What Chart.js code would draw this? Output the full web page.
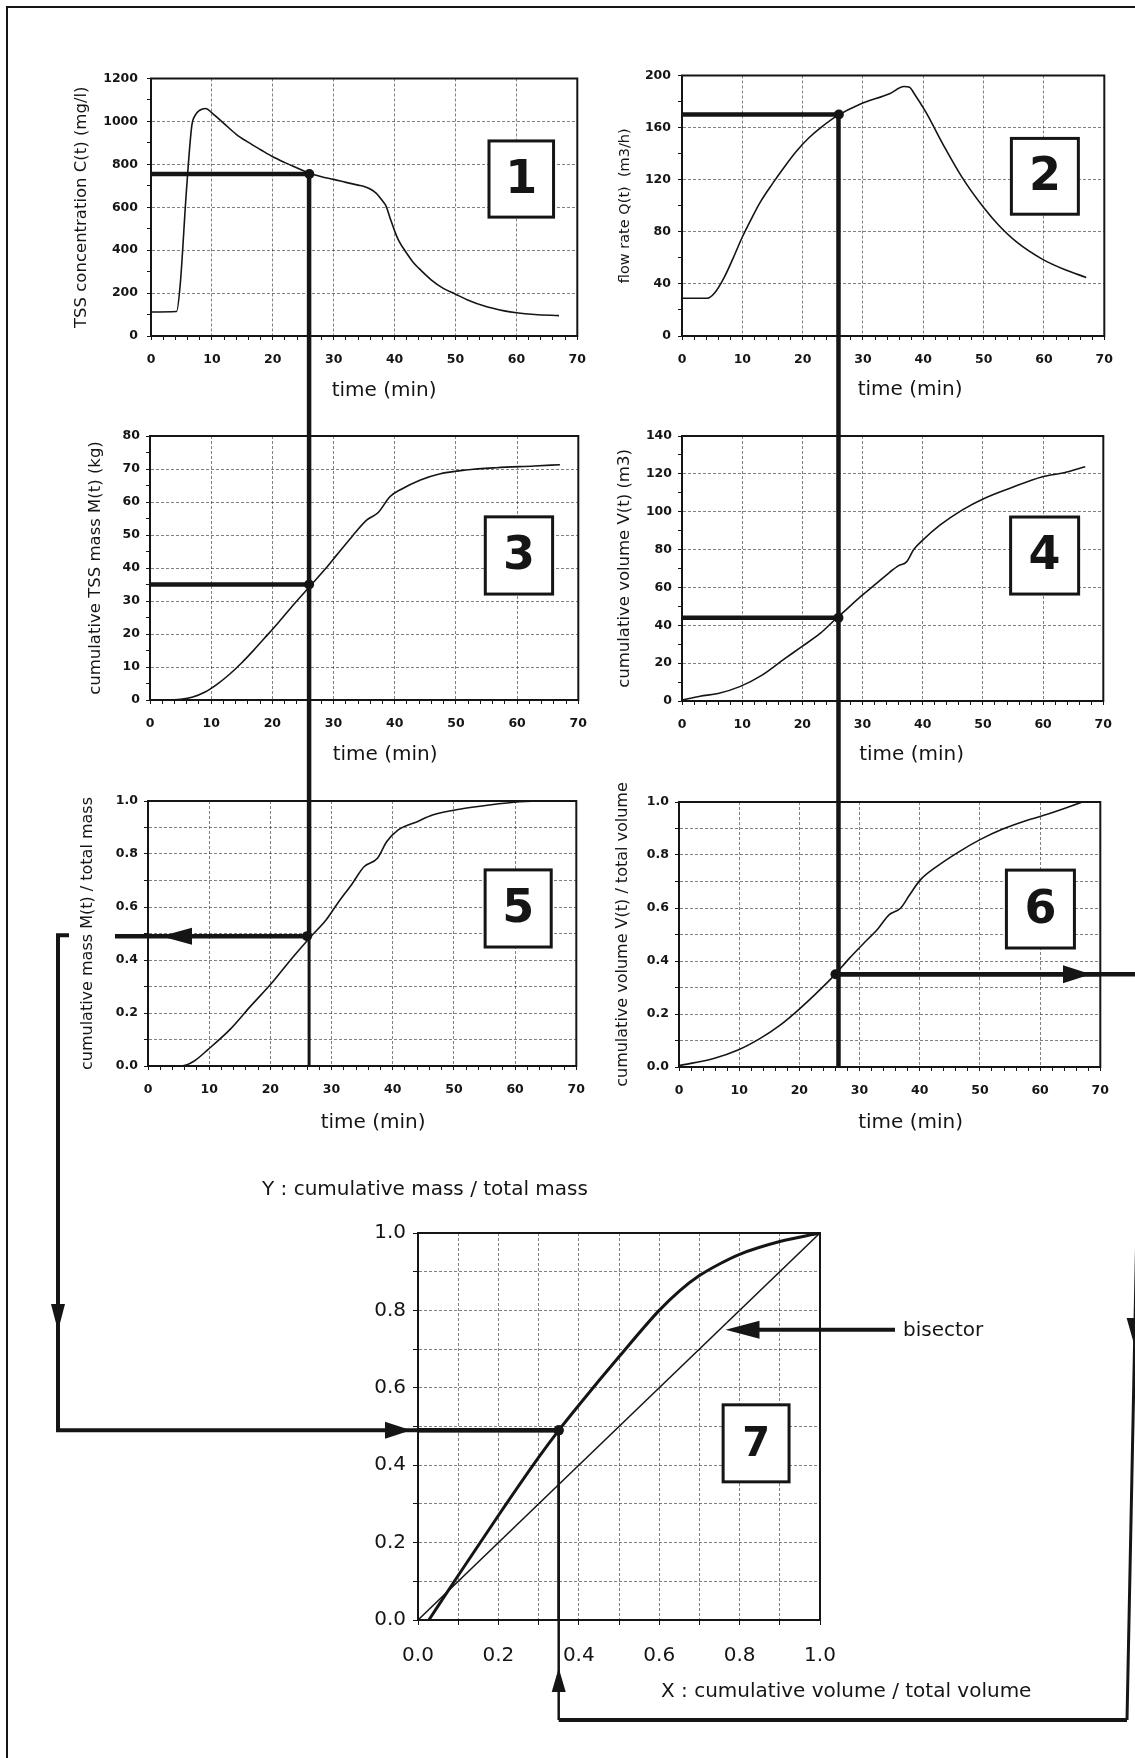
<!DOCTYPE html>
<html lang="en">
<head>
<meta charset="utf-8">
<title>Construction of the M(V) curve</title>
<script src="https://cdn.jsdelivr.net/npm/chart.js@4.4.1/dist/chart.umd.min.js"></script>
<style>
  html, body { margin:0; padding:0; background:#ffffff; }
  #page { position:relative; width:1135px; height:1758px; overflow:hidden; background:#ffffff; }
  #page canvas { position:absolute; }
</style>
</head>
<body>
<div id="page"></div>
<script>
// ================= data =================
// tick labels
const timeMajor = [0, 10, 20, 30, 40, 50, 60, 70];
const concMajor = [0, 200, 400, 600, 800, 1000, 1200];
const flowMajor = [0, 40, 80, 120, 160, 200];
const massMajor = [0, 10, 20, 30, 40, 50, 60, 70, 80];
const volMajor  = [0, 20, 40, 60, 80, 100, 120, 140];
const fracMajor = [0, 0.2, 0.4, 0.6, 0.8, 1.0];

// panel 1 : TSS concentration C(t) (mg/l)
const concTime   = [0, 4.2, 4.8, 5.8, 6.7, 7.3, 8, 9, 10, 11, 12, 14, 16, 18, 20, 22, 24, 26, 28, 30, 32, 34, 35, 36, 37, 38, 38.6, 39.2, 40, 40.7, 42, 43, 44, 46, 48, 50, 52, 55, 58, 60, 63, 67];
const concValues = [112, 114, 240, 670, 980, 1030, 1052, 1060, 1040, 1015, 990, 940, 902, 868, 835, 808, 783, 758, 742, 730, 716, 703, 697, 685, 665, 630, 605, 555, 490, 443, 385, 345, 315, 262, 222, 195, 168, 137, 117, 108, 100, 95];

// panel 2 : flow rate Q(t) (m3/h)
const flowTime   = [0, 4.2, 5.4, 7, 8.5, 10, 11.5, 13, 15, 17, 19, 21, 23, 25.7, 29.5, 34.4, 36.8, 37.7, 38.5, 40.4, 43.4, 46.4, 50.1, 52.5, 55.5, 59.7, 63.4, 67];
const flowValues = [29, 29, 33, 45, 60, 76, 90, 103, 117, 130, 142, 152, 160, 169, 178, 186, 191.5, 191, 186, 172, 146, 122, 98, 85, 72, 59, 51, 45];

// panel 3 : cumulative TSS mass M(t) (kg)
const massTime   = [0, 3, 5, 7, 9, 11, 13, 15, 17, 18.7, 21, 23.7, 26.2, 28.6, 30.5, 33, 35.4, 37.3, 39.2, 41, 44.2, 47.3, 51.6, 56.6, 62.8, 67];
const massValues = [0, 0, 0.2, 0.9, 2.4, 4.8, 7.8, 11.3, 15.2, 18.7, 23.5, 29.4, 34.6, 39.6, 43.9, 49.5, 54.5, 56.8, 61.6, 63.8, 66.7, 68.5, 69.7, 70.4, 70.9, 71.3];

// panel 4 : cumulative volume V(t) (m3)
const volTime   = [0, 3, 6, 9.6, 13.3, 16.9, 19.9, 23, 25.5, 27.2, 29.6, 32, 34.5, 36, 37.3, 38.5, 40, 42.9, 46.6, 50.2, 54.5, 59.9, 63.5, 67];
const volValues = [0.5, 2.5, 4, 7.6, 13.7, 22, 28.7, 35.8, 43.2, 48, 55, 61.3, 68, 71.5, 73.5, 80, 85, 93, 101, 107, 112.4, 118.5, 120.6, 123.8];

// panel 5 : M(t) / total mass
const massFracTime   = [0, 3, 5.5, 7.5, 9.8, 13.5, 16.7, 20.4, 23.5, 26.6, 29.1, 31, 33.4, 35.3, 37.5, 39, 40.9, 44, 46.5, 50.9, 55.8, 60.8, 64.7, 67];
const massFracValues = [0, 0, 0, 0.018, 0.062, 0.14, 0.224, 0.318, 0.406, 0.488, 0.551, 0.614, 0.689, 0.752, 0.784, 0.846, 0.891, 0.922, 0.947, 0.969, 0.985, 0.997, 1.0, 1.0];

// panel 6 : V(t) / total volume
const volFracTime   = [0, 5.9, 9.8, 13.5, 16.8, 19.8, 22.8, 25.6, 28.3, 30.7, 33.1, 34.9, 36.8, 38.3, 40.1, 42.8, 46.5, 50.1, 53.7, 58, 62.2, 67];
const volFracValues = [0.005, 0.033, 0.064, 0.108, 0.158, 0.215, 0.278, 0.341, 0.41, 0.467, 0.523, 0.574, 0.599, 0.649, 0.706, 0.756, 0.812, 0.859, 0.897, 0.932, 0.961, 1.0];

// panel 7 : Y = M/Mtot versus X = V/Vtot, and the bisector
const mvX = [0.027, 0.1, 0.2, 0.3, 0.35, 0.4, 0.5, 0.6, 0.65, 0.7, 0.75, 0.8, 0.9, 1.0];
const mvY = [0, 0.115, 0.27, 0.42, 0.49, 0.555, 0.68, 0.8, 0.85, 0.89, 0.92, 0.945, 0.978, 1.0];
const bisectorX = [0, 1];
const bisectorY = [0, 1];

// reading example at t = 26 min
const cutTime = 26;
const concAtCut = 755;
const flowAtCut = 170;
const massAtCut = 35;
const volAtCut = 44;
const massFracAtCut = 0.49;
const volFracAtCut = 0.35;

// ================= drawing =================
const INK = '#151515';
const GRID = 'rgba(25,25,25,0.55)';
const FONT = "'DejaVu Sans', 'Liberation Sans', sans-serif";
const page = document.getElementById('page');

function stepList(min, max, step) {
  const out = []; const n = Math.round((max - min) / step);
  for (let i = 0; i <= n; i++) out.push(+(min + i * step).toFixed(6));
  return out;
}
function isIn(list, v) { return list.some(m => Math.abs(m - v) < 1e-6); }

function curve(xs, ys, w) {
  return { data: xs.map((x, i) => ({ x: x, y: ys[i] })), borderColor: INK, borderWidth: w || 1.6,
    pointRadius: 0, fill: false, cubicInterpolationMode: 'monotone' };
}
function guide(points, w, markIdx) {
  return { data: points, borderColor: INK, borderWidth: w, fill: false, tension: 0,
    pointRadius: points.map((p, i) => i === markIdx ? 5 : 0), pointBackgroundColor: INK,
    pointBorderColor: INK, pointBorderWidth: 0 };
}

function axis(o, horizontal) {
  const ax = {
    type: 'linear', position: horizontal ? 'bottom' : 'left', min: o.min, max: o.max,
    afterBuildTicks: s => { s.ticks = stepList(o.min, o.max, o.step).map(v => ({ value: v })); },
    afterFit: s => { if (horizontal) s.height = o.size; else s.width = o.size; },
    ticks: { autoSkip: false, maxRotation: 0, minRotation: 0, padding: o.pad, color: INK, font: o.font,
      callback: v => isIn(o.major, v) ? o.fmt(v) : '' },
    grid: { color: c => (c.tick && (o.gridAll || isIn(o.major, c.tick.value))) ? GRID : 'rgba(0,0,0,0)',
      lineWidth: 1, drawTicks: true, tickLength: o.tl, tickColor: INK, tickWidth: 1, tickBorderDash: [] },
    border: { display: true, color: INK, width: 2, dash: [3, 2] }
  };
  if (o.title) {
    ax.title = { display: true, text: o.title, color: INK, padding: { top: 0, bottom: 0 },
      font: { family: FONT, size: o.titleSize, weight: 'normal' } };
  }
  return ax;
}

const framePlugin = {
  id: 'frame',
  beforeDatasetsDraw(chart) {
    const { ctx, chartArea: a } = chart;
    ctx.save(); ctx.strokeStyle = INK; ctx.lineWidth = 2;
    ctx.strokeRect(a.left, a.top, a.right - a.left, a.bottom - a.top); ctx.restore();
  }
};
function boxPlugin(b) {
  return { id: 'numBox', afterDatasetsDraw(chart) {
    const { ctx } = chart; const xs = chart.scales.x, ys = chart.scales.y;
    const x0 = xs.getPixelForValue(b.x0), x1 = xs.getPixelForValue(b.x1);
    const y0 = ys.getPixelForValue(b.y0), y1 = ys.getPixelForValue(b.y1);
    ctx.save(); ctx.fillStyle = '#ffffff'; ctx.fillRect(x0, y0, x1 - x0, y1 - y0);
    ctx.strokeStyle = INK; ctx.lineWidth = 3; ctx.strokeRect(x0, y0, x1 - x0, y1 - y0);
    ctx.fillStyle = INK; ctx.font = 'bold ' + b.size + 'px ' + FONT; ctx.textAlign = 'center'; ctx.textBaseline = 'middle';
    ctx.fillText(b.text, (x0 + x1) / 2, (y0 + y1) / 2 + 2); ctx.restore();
  } };
}
function captionPlugin(c) {
  return { id: 'caption', afterDraw(chart) {
    if (!c) return;
    const { ctx, chartArea: a } = chart;
    ctx.save(); ctx.fillStyle = INK; ctx.font = c.size + 'px ' + FONT; ctx.textAlign = 'center'; ctx.textBaseline = 'middle';
    ctx.fillText(c.text, (a.left + a.right) / 2 + c.dx, a.bottom + c.dy); ctx.restore();
  } };
}
function notesPlugin(n) {
  return { id: 'notes', afterDraw(chart) {
    if (!n) return;
    const { ctx, chartArea: a } = chart;
    ctx.save(); ctx.fillStyle = INK; ctx.strokeStyle = INK; ctx.font = n.size + 'px ' + FONT;
    ctx.textAlign = 'left'; ctx.textBaseline = 'middle';
    n.items.forEach(it => ctx.fillText(it.text, a.left + it.dx, a.top + it.dy));
    if (n.arrow) {
      const tx = chart.scales.x.getPixelForValue(n.arrow.x), ty = chart.scales.y.getPixelForValue(n.arrow.y);
      ctx.lineWidth = 4; ctx.beginPath(); ctx.moveTo(tx + 28, ty); ctx.lineTo(a.left + n.arrow.endDx, ty); ctx.stroke();
      ctx.beginPath(); ctx.moveTo(tx, ty); ctx.lineTo(tx + 34, ty - 9); ctx.lineTo(tx + 34, ty + 9); ctx.closePath(); ctx.fill();
    }
    ctx.restore();
  } };
}

function makeChart(sp) {
  const left = sp.cl, top = sp.T - sp.pt;
  const w = sp.R + sp.pr - left, h = sp.B + sp.xh - top;
  const cv = document.createElement('canvas');
  cv.width = w; cv.height = h;
  cv.style.left = left + 'px'; cv.style.top = top + 'px'; cv.style.width = w + 'px'; cv.style.height = h + 'px';
  page.appendChild(cv);
  sp.x.size = sp.xh; sp.y.size = sp.L - left;
  return new Chart(cv, {
    type: 'line',
    data: { datasets: sp.datasets },
    options: {
      responsive: false, animation: false, devicePixelRatio: 1, events: [],
      layout: { padding: { left: 0, top: sp.pt, right: sp.pr, bottom: 0 } },
      plugins: { legend: { display: false }, tooltip: { enabled: false } },
      scales: { x: axis(sp.x, true), y: axis(sp.y, false) }
    },
    plugins: [framePlugin, boxPlugin(sp.box), captionPlugin(sp.cap), notesPlugin(sp.notes)]
  });
}

const tickFont = { family: FONT, size: 12.5, weight: 'bold' };
const bigTickFont = { family: FONT, size: 20, weight: 'normal' };
const num = v => String(v);
const frac = v => v.toFixed(1);
const timeAxis = () => ({ min: 0, max: 70, step: 2, major: timeMajor, fmt: num, font: tickFont, pad: 12, tl: 4 });

const c1 = makeChart({ cl: 72, L: 151, T: 76, R: 582, B: 336, pt: 14, pr: 16, xh: 70,
  x: timeAxis(),
  y: { min: 0, max: 1200, step: 100, major: concMajor, fmt: num, font: tickFont, pad: 9, tl: 4, title: 'TSS concentration C(t) (mg/l)', titleSize: 16.5 },
  datasets: [curve(concTime, concValues), guide([{ x: 0, y: concAtCut }, { x: cutTime, y: concAtCut }], 4.5, 1)],
  box: { x0: 55.5, x1: 66.1, y0: 909, y1: 554, text: '1', size: 46 },
  cap: { text: 'time (min)', dx: 20, dy: 55, size: 20 } });

const c2 = makeChart({ cl: 617, L: 682, T: 75, R: 1109, B: 336, pt: 14, pr: 16, xh: 70,
  x: timeAxis(),
  y: { min: 0, max: 200, step: 20, major: flowMajor, fmt: num, font: tickFont, pad: 7, tl: 4, title: 'flow rate Q(t)  (m3/h)', titleSize: 14.5 },
  datasets: [curve(flowTime, flowValues), guide([{ x: 0, y: flowAtCut }, { x: cutTime, y: flowAtCut }], 4.5, 1)],
  box: { x0: 54.6, x1: 65.7, y0: 151.7, y1: 93.5, text: '2', size: 46 },
  cap: { text: 'time (min)', dx: 17, dy: 54, size: 20 } });

const c3 = makeChart({ cl: 86, L: 150, T: 436, R: 583, B: 700, pt: 14, pr: 16, xh: 70,
  x: timeAxis(),
  y: { min: 0, max: 80, step: 5, major: massMajor, fmt: num, font: tickFont, pad: 6, tl: 4, title: 'cumulative TSS mass M(t) (kg)', titleSize: 16.5 },
  datasets: [curve(massTime, massValues), guide([{ x: 0, y: massAtCut }, { x: cutTime, y: massAtCut }], 4.5, 1)],
  box: { x0: 54.8, x1: 65.8, y0: 55.5, y1: 32.1, text: '3', size: 46 },
  cap: { text: 'time (min)', dx: 21, dy: 55, size: 20 } });

const c4 = makeChart({ cl: 615, L: 682, T: 436, R: 1108, B: 701, pt: 14, pr: 16, xh: 70,
  x: timeAxis(),
  y: { min: 0, max: 140, step: 10, major: volMajor, fmt: num, font: tickFont, pad: 6, tl: 4, title: 'cumulative volume V(t) (m3)', titleSize: 16.5 },
  datasets: [curve(volTime, volValues), guide([{ x: 0, y: volAtCut }, { x: cutTime, y: volAtCut }], 4.5, 1)],
  box: { x0: 54.6, x1: 65.9, y0: 97.2, y1: 56.5, text: '4', size: 46 },
  cap: { text: 'time (min)', dx: 19, dy: 54, size: 20 } });

const c5 = makeChart({ cl: 78, L: 148, T: 801, R: 581, B: 1066, pt: 28, pr: 16, xh: 70,
  x: timeAxis(),
  y: { min: 0, max: 1, step: 0.1, major: fracMajor, gridAll: true, fmt: frac, font: tickFont, pad: 6, tl: 4, title: 'cumulative mass M(t) / total mass', titleSize: 16 },
  datasets: [curve(massFracTime, massFracValues), guide([{ x: cutTime, y: massFracAtCut }], 0, 0)],
  box: { x0: 55.1, x1: 65.9, y0: 0.74, y1: 0.449, text: '5', size: 46 },
  cap: { text: 'time (min)', dx: 11, dy: 57, size: 20 } });

const c6 = makeChart({ cl: 613, L: 679, T: 802, R: 1105, B: 1067, pt: 29, pr: 16, xh: 70,
  x: timeAxis(),
  y: { min: 0, max: 1, step: 0.1, major: fracMajor, gridAll: true, fmt: frac, font: tickFont, pad: 6, tl: 4, title: 'cumulative volume V(t) / total volume', titleSize: 16 },
  datasets: [curve(volFracTime, volFracValues), guide([{ x: cutTime, y: volFracAtCut }, { x: 70, y: volFracAtCut }], 4.5, 0)],
  box: { x0: 54.4, x1: 65.7, y0: 0.743, y1: 0.449, text: '6', size: 46 },
  cap: { text: 'time (min)', dx: 21, dy: 56, size: 20 } });

const c7 = makeChart({ cl: 250, L: 418, T: 1233, R: 820, B: 1620, pt: 65, pr: 250, xh: 92,
  x: { min: 0, max: 1, step: 0.1, major: fracMajor, gridAll: true, fmt: frac, font: bigTickFont, pad: 19, tl: 5 },
  y: { min: 0, max: 1, step: 0.1, major: fracMajor, gridAll: true, fmt: frac, font: bigTickFont, pad: 7, tl: 5 },
  datasets: [
    curve(bisectorX, bisectorY, 1.5),
    curve(mvX, mvY, 3),
    guide([{ x: 0, y: massFracAtCut }, { x: volFracAtCut, y: massFracAtCut }], 4.5, 1),
    guide([{ x: volFracAtCut, y: massFracAtCut }, { x: volFracAtCut, y: 0 }], 2.5, 0)
  ],
  box: { x0: 0.759, x1: 0.923, y0: 0.556, y1: 0.357, text: '7', size: 40 },
  notes: { size: 20, items: [
      { text: 'Y : cumulative mass / total mass', dx: -156, dy: -43 },
      { text: 'X : cumulative volume / total volume', dx: 243, dy: 459 },
      { text: 'bisector', dx: 485, dy: 98 } ],
    arrow: { x: 0.765, y: 0.75, endDx: 477 } } });

// ---------- connector lines between the panels (positions from the chart scales) ----------
const ov = document.createElement('canvas');
ov.width = 1135; ov.height = 1758;
ov.style.left = '0px'; ov.style.top = '0px'; ov.style.width = '1135px'; ov.style.height = '1758px';
page.appendChild(ov);
const g = ov.getContext('2d');
g.strokeStyle = INK; g.fillStyle = INK; g.lineCap = 'butt'; g.lineJoin = 'miter';
const at = (ch, xv, yv) => ({ x: ch.canvas.offsetLeft + ch.scales.x.getPixelForValue(xv),
                               y: ch.canvas.offsetTop + ch.scales.y.getPixelForValue(yv) });
function line(pts, w) {
  g.lineWidth = w; g.beginPath(); g.moveTo(pts[0][0], pts[0][1]);
  for (let i = 1; i < pts.length; i++) g.lineTo(pts[i][0], pts[i][1]);
  g.stroke();
}
function head(x, y, dir, len, half) {
  g.beginPath(); g.moveTo(x, y);
  if (dir === 'left') { g.lineTo(x + len, y - half); g.lineTo(x + len, y + half); }
  if (dir === 'right') { g.lineTo(x - len, y - half); g.lineTo(x - len, y + half); }
  if (dir === 'up') { g.lineTo(x - half, y + len); g.lineTo(x + half, y + len); }
  if (dir === 'down') { g.lineTo(x - half, y - len); g.lineTo(x + half, y - len); }
  g.closePath(); g.fill();
}

// page frame
line([[7, 1758], [7, 7], [1135, 7]], 2);

const a1 = at(c1, cutTime, concAtCut), a3 = at(c3, cutTime, massAtCut);
const a5 = at(c5, cutTime, massFracAtCut), a5b = at(c5, cutTime, 0);
const a2 = at(c2, cutTime, flowAtCut), a4 = at(c4, cutTime, volAtCut);
const a6 = at(c6, cutTime, volFracAtCut), a6b = at(c6, cutTime, 0);
const a7 = at(c7, volFracAtCut, massFracAtCut);

// panel 1 -> 3 -> 5
line([[a3.x, a1.y], [a3.x, a5.y]], 4.5);
line([[a3.x, a5.y], [a3.x, a5b.y]], 3);
// panel 2 -> 4 -> 6
line([[a4.x, a2.y], [a4.x, a6b.y]], 4.5);

// panel 5 -> left -> panel 7 (Y)
line([[a5.x, a5.y], [115, a5.y]], 4.5);
head(161, a5.y, 'left', 31, 8.5);
line([[69, a5.y - 1], [58, a5.y - 1], [58, a7.y], [a7.x, a7.y]], 4);
head(58, 1331, 'down', 27, 7);
head(411, a7.y, 'right', 26, 8.5);

// panel 6 -> right -> panel 7 (X)
line([[a6.x, a6.y], [1142, a6.y]], 4.5);
head(1091, a6.y, 'right', 28, 9);
line([[1142, a6.y], [1127, 1720]], 3);
head(1134.6, 1346, 'down', 28, 8);
line([[1127, 1720], [a7.x, 1720]], 4);
line([[a7.x, 1720], [a7.x, a7.y]], 2.5);
head(a7.x, 1668, 'up', 24, 7);
</script>
</body>
</html>
